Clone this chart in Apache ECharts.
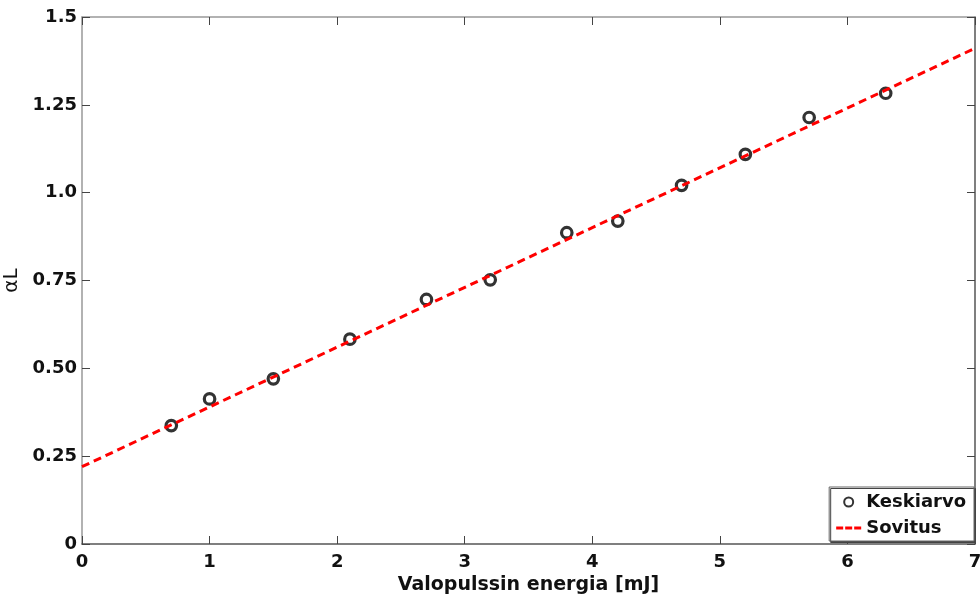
<!DOCTYPE html>
<html>
<head>
<meta charset="utf-8">
<script src="https://cdn.jsdelivr.net/npm/echarts@6/dist/echarts.min.js"></script>
<style>
  html, body { margin: 0; padding: 0; background: #fff; }
  #chart { width: 980px; height: 597px; }
</style>
</head>
<body>
<div id="chart"></div>
<script>
// Measured mean values (energy in mJ, alpha*L)
const energy = [0.7, 1.0, 1.5, 2.1, 2.7, 3.2, 3.8, 4.2, 4.7, 5.2, 5.7, 6.3];
const alphaL = [0.337, 0.413, 0.470, 0.583, 0.696, 0.752, 0.886, 0.919, 1.021, 1.109, 1.214, 1.283];

// Linear fit, evaluated at the ends of the x range
const fitX = [0, 7];
const fitY = [0.22, 1.411];

// Tick labels
const yTickValues = [0, 0.25, 0.5, 0.75, 1.0, 1.25, 1.5];
const yTickLabels = ['0', '0.25', '0.50', '0.75', '1.0', '1.25', '1.5'];

const font = '"DejaVu Sans", Verdana, sans-serif';

// Short dashed-line glyph for the fit entry of the legend (box 25 x 9)
const dashIcon = 'path://M0,0h0.01v0.01h-0.01z M0,3h7v3h-7z M9,3h7v3h-7z M18,3h7v3h-7z M24.99,8.99h0.01v0.01h-0.01z';

const chart = echarts.init(document.getElementById('chart'), null, { renderer: 'canvas' });

function yLabel(v) {
  for (let i = 0; i < yTickValues.length; i++) {
    if (Math.abs(yTickValues[i] - v) < 1e-9) return yTickLabels[i];
  }
  return '';
}

const tickStyle = { inside: true, length: 8, lineStyle: { color: '#444', width: 1 } };

chart.setOption({
  animation: false,
  backgroundColor: '#ffffff',
  grid: { left: 82, right: 5, top: 17, bottom: 53, containLabel: false, outerBoundsMode: 'none' },
  xAxis: [
    {
      type: 'value', min: 0, max: 7, interval: 1,
      name: 'Valopulssin energia [mJ]', nameLocation: 'middle', nameGap: 28,
      nameTextStyle: { fontFamily: font, fontSize: 19, fontWeight: 'bold', color: '#111' },
      axisLine: { show: true, onZero: false, lineStyle: { color: '#555', width: 1.5 } },
      axisTick: tickStyle,
      axisLabel: { fontFamily: font, fontSize: 18, fontWeight: 'bold', color: '#111', margin: 9 },
      splitLine: { show: false }
    },
    {
      type: 'value', min: 0, max: 7, interval: 1, position: 'top',
      axisLine: { show: true, onZero: false, lineStyle: { color: '#999', width: 1.5 } },
      axisTick: tickStyle,
      axisLabel: { show: false },
      splitLine: { show: false }
    }
  ],
  yAxis: [
    {
      type: 'value', min: 0, max: 1.5, interval: 0.25,
      name: 'αL', nameLocation: 'middle', nameGap: 53, nameRotate: 90,
      nameTextStyle: { fontFamily: font, fontSize: 20, color: '#111' },
      axisLine: { show: true, onZero: false, lineStyle: { color: '#999', width: 1.5 } },
      axisTick: tickStyle,
      axisLabel: { fontFamily: font, fontSize: 18, fontWeight: 'bold', color: '#111', margin: 5, formatter: yLabel },
      splitLine: { show: false }
    },
    {
      type: 'value', min: 0, max: 1.5, interval: 0.25, position: 'right',
      axisLine: { show: true, onZero: false, lineStyle: { color: '#555', width: 1.5 } },
      axisTick: tickStyle,
      axisLabel: { show: false },
      splitLine: { show: false }
    }
  ],
  legend: {
    orient: 'vertical',
    right: 6, bottom: 56,
    backgroundColor: '#fff',
    borderColor: '#666', borderWidth: 1,
    shadowColor: '#444', shadowBlur: 0, shadowOffsetX: 1.5, shadowOffsetY: 1.5,
    padding: [6, 8, 4, 7],
    itemWidth: 25, itemHeight: 9, itemGap: 8,
    textStyle: { fontFamily: font, fontSize: 18, fontWeight: 'bold', color: '#111' },
    data: [
      { name: 'Keskiarvo', icon: 'circle' },
      { name: 'Sovitus', icon: dashIcon, itemStyle: { color: '#ff0000', borderWidth: 0 } }
    ]
  },
  series: [
    {
      name: 'Keskiarvo',
      type: 'scatter',
      z: 2,
      symbol: 'circle',
      symbolSize: 10.5,
      itemStyle: { color: 'rgba(255,255,255,0)', borderColor: '#000', borderWidth: 3.2 },
      data: energy.map((x, i) => [x, alphaL[i]])
    },
    {
      name: 'Sovitus',
      type: 'line',
      z: 3,
      symbol: 'none',
      showSymbol: false,
      lineStyle: { color: '#ff0000', width: 3, type: [8, 5] },
      itemStyle: { color: '#ff0000' },
      data: fitX.map((x, i) => [x, fitY[i]])
    }
  ]
});
</script>
</body>
</html>
